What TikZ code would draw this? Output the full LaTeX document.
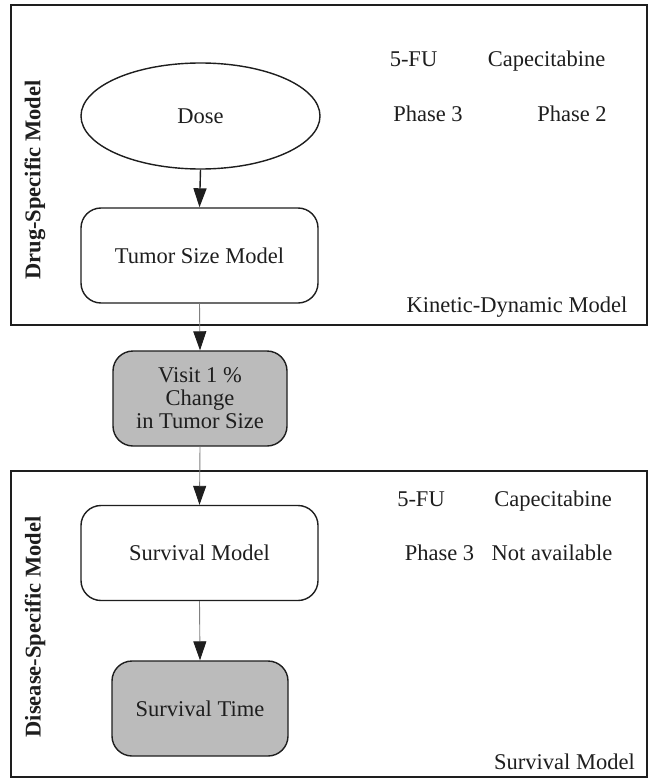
\documentclass[tikz,border=0pt]{standalone}
\usepackage{fontspec}
\setmainfont{Liberation Serif}
\usetikzlibrary{shapes.geometric,arrows.meta}
\definecolor{ink}{HTML}{1E1E1E}
\definecolor{boxgray}{HTML}{BBBBBB}
\definecolor{linegray}{HTML}{808080}
\begin{document}
\begin{tikzpicture}[x=1bp,y=-1bp,
  every node/.style={font=\fontsize{22.5bp}{23bp}\selectfont, text=ink},
  frame/.style={draw=ink, line width=2bp},
  roundbox/.style={draw=ink, line width=1.4bp, rounded corners=20bp, minimum width=#1, minimum height=95bp, inner sep=0pt, align=center},
  graybox/.style={roundbox=#1, fill=boxgray},
  lbl/.style={anchor=base, inner sep=0pt},
  side/.style={rotate=90, font=\fontsize{22.5bp}{23bp}\selectfont\bfseries},
  blackarrow/.style={draw=ink, line width=1.4bp, -{Triangle[width=13bp,length=19bp,color=ink]}},
  grayarrow/.style={draw=linegray, line width=0.9bp, -{Triangle[width=13bp,length=19bp,color=ink,fill=ink]}}
]
\useasboundingbox (0,0) rectangle (649,779);
\fill[white] (0,0) rectangle (649,779);

% frames
\draw[frame] (11,5) rectangle (647,325);
\draw[frame] (11,471) rectangle (647,777);

% side labels
\node[side] (drug) at (35,180) {Drug-Specific Model};
\node[side] (disease) at (35,627) {Disease-Specific Model};

% nodes
\node[ellipse, draw=ink, line width=1.4bp, minimum width=239bp, minimum height=106bp, inner sep=0pt] (dose) at (200.5,116) {Dose};
\node[roundbox=237bp] (tumor) at (199.5,255.5) {Tumor Size Model};
\node[graybox=174bp] (visit) at (200,398.5) {Visit 1 \%\\Change\\ in Tumor Size};
\node[roundbox=237bp] (survm) at (199.5,553) {Survival Model};
\node[graybox=176bp] (survt) at (200,708.5) {Survival Time};

% connectors
\draw[blackarrow] (dose.south) -- (tumor.north);
\draw[grayarrow] (tumor.south) -- (visit.north);
\draw[grayarrow] (visit.south) -- (survm.north);
\draw[grayarrow] (survm.south) -- (survt.north);

% right texts, top
\node[lbl] (fu1) at (413.5,67) {5-FU};
\node[lbl] (cap1) at (546.5,67) {Capecitabine};
\node[lbl] (ph31) at (428,121) {Phase 3};
\node[lbl] (ph21) at (572,121) {Phase 2};
\node[lbl] (kd) at (517,312) {Kinetic-Dynamic Model};

% right texts, bottom
\node[lbl] (fu2) at (421,506) {5-FU};
\node[lbl] (cap2) at (553,506) {Capecitabine};
\node[lbl] (ph32) at (439.5,560) {Phase 3};
\node[lbl] (na) at (552,560) {Not available};
\node[lbl] (sm) at (564.5,769) {Survival Model};
\end{tikzpicture}
\end{document}
